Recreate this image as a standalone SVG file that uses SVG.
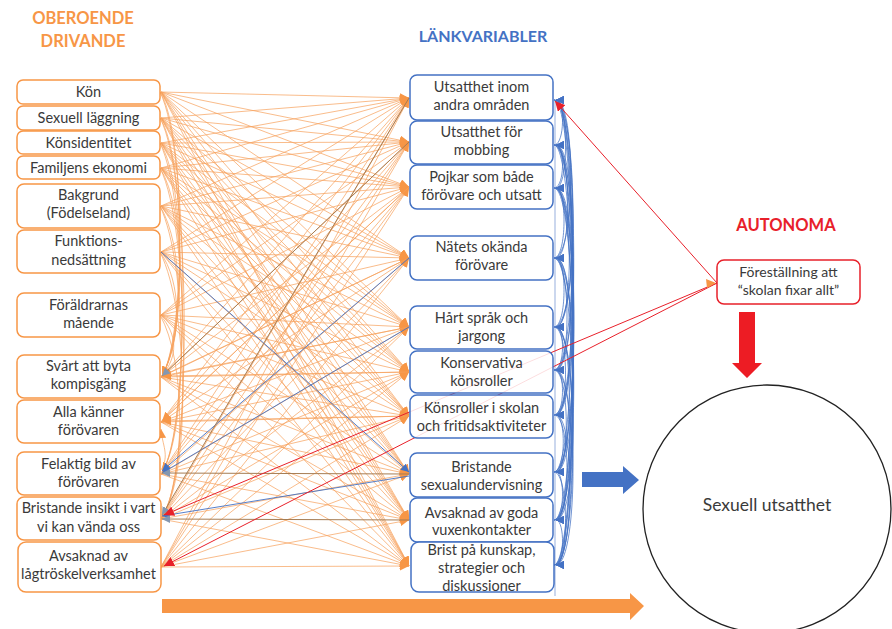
<svg xmlns="http://www.w3.org/2000/svg" width="892" height="629" viewBox="0 0 892 629">
<defs>
<style>
.t{font-family:Lato,"Liberation Sans",sans-serif;font-size:14.5px;fill:#3a3a3a;text-anchor:middle}
.h{font-family:Lato,"Liberation Sans",sans-serif;font-weight:bold;font-size:16.5px;text-anchor:middle}
.lb{fill:#fff;stroke:#F79646;stroke-width:1.5}
.mb{fill:#fff;fill-opacity:.85;stroke:#4472C4;stroke-width:1.5}
.o path{fill:none;stroke:#F7A25E;stroke-width:.8;stroke-opacity:.9;marker-end:url(#ao)}
.bl path{fill:none;stroke:#4472C4;stroke-width:.9;marker-end:url(#ab)}
.br path{fill:none;stroke:#A67C52;stroke-width:1;marker-end:url(#an)}
.rd path{fill:none;stroke:#E8202A;stroke-width:1;marker-end:url(#ar)}
.arc path{fill:none;stroke:#4472C4;stroke-width:.9;stroke-opacity:.85;marker-end:url(#ab)}
</style>
<marker id="ao" viewBox="0 0 10 10" refX="10" refY="5" markerWidth="9" markerHeight="9" markerUnits="userSpaceOnUse" orient="auto"><path d="M0 0L10 5L0 10z" fill="#F79646"/></marker>
<marker id="ab" viewBox="0 0 10 10" refX="10" refY="5" markerWidth="8" markerHeight="8" markerUnits="userSpaceOnUse" orient="auto"><path d="M0 0L10 5L0 10z" fill="#4472C4"/></marker>
<marker id="an" viewBox="0 0 10 10" refX="10" refY="5" markerWidth="8" markerHeight="8" markerUnits="userSpaceOnUse" orient="auto"><path d="M0 0L10 5L0 10z" fill="#8497B0"/></marker>
<marker id="ar" viewBox="0 0 10 10" refX="10" refY="5" markerWidth="10" markerHeight="10" markerUnits="userSpaceOnUse" orient="auto"><path d="M0 0L10 5L0 10z" fill="#E8202A"/></marker>
</defs>
<rect width="892" height="629" fill="#fff"/>

<g id="headers">
<text class="h" x="83" y="24" fill="#F79646">OBEROENDE</text>
<text class="h" x="83" y="47" fill="#F79646">DRIVANDE</text>
<text class="h" x="483" y="42" fill="#4472C4" style="font-size:16px">LÄNKVARIABLER</text>
<text class="h" x="786" y="231" fill="#E8202A">AUTONOMA</text>
</g>

<g id="connectors">
<g class="o">
<path d="M161 92L409 98"/><path d="M161 92L409 142"/><path d="M161 92L409 187"/><path d="M161 92L409 258"/><path d="M161 92L409 327"/><path d="M161 92L409 372"/><path d="M161 92L409 416"/><path d="M161 92L409 474"/><path d="M161 92L409 520"/><path d="M161 92L409 566"/>
<path d="M161 118L409 98"/><path d="M161 118L409 142"/><path d="M161 118L409 187"/><path d="M161 118L409 258"/><path d="M161 118L409 327"/><path d="M161 118L409 372"/><path d="M161 118L409 416"/><path d="M161 118L409 474"/><path d="M161 118L409 520"/><path d="M161 118L409 566"/>
<path d="M161 143L409 98"/><path d="M161 143L409 142"/><path d="M161 143L409 187"/><path d="M161 143L409 258"/><path d="M161 143L409 327"/><path d="M161 143L409 372"/><path d="M161 143L409 416"/><path d="M161 143L409 474"/><path d="M161 143L409 520"/><path d="M161 143L409 566"/>
<path d="M161 168L409 98"/><path d="M161 168L409 142"/><path d="M161 168L409 187"/><path d="M161 168L409 258"/><path d="M161 168L409 327"/><path d="M161 168L409 372"/><path d="M161 168L409 416"/><path d="M161 168L409 474"/><path d="M161 168L409 520"/><path d="M161 168L409 566"/>
<path d="M161 206L409 98"/><path d="M161 206L409 142"/><path d="M161 206L409 187"/><path d="M161 206L409 258"/><path d="M161 206L409 327"/><path d="M161 206L409 372"/><path d="M161 206L409 416"/><path d="M161 206L409 474"/><path d="M161 206L409 520"/><path d="M161 206L409 566"/>
<path d="M161 252L409 98"/><path d="M161 252L409 142"/><path d="M161 252L409 187"/><path d="M161 252L409 258"/><path d="M161 252L409 327"/><path d="M161 252L409 372"/><path d="M161 252L409 416"/><path d="M161 252L409 474"/><path d="M161 252L409 520"/><path d="M161 252L409 566"/>
<path d="M161 315L409 98"/><path d="M161 315L409 142"/><path d="M161 315L409 187"/><path d="M161 315L409 258"/><path d="M161 315L409 327"/><path d="M161 315L409 372"/><path d="M161 315L409 416"/><path d="M161 315L409 474"/><path d="M161 315L409 520"/><path d="M161 315L409 566"/>
<path d="M161 377L409 98"/><path d="M161 377L409 142"/><path d="M161 377L409 187"/><path d="M161 377L409 258"/><path d="M161 377L409 327"/><path d="M161 377L409 372"/><path d="M161 377L409 416"/><path d="M161 377L409 474"/><path d="M161 377L409 520"/><path d="M161 377L409 566"/>
<path d="M161 422L409 98"/><path d="M161 422L409 142"/><path d="M161 422L409 187"/><path d="M161 422L409 258"/><path d="M161 422L409 327"/><path d="M161 422L409 372"/><path d="M161 422L409 416"/><path d="M161 422L409 474"/><path d="M161 422L409 520"/><path d="M161 422L409 566"/>
<path d="M161 474L409 98"/><path d="M161 474L409 142"/><path d="M161 474L409 187"/><path d="M161 474L409 258"/><path d="M161 474L409 327"/><path d="M161 474L409 372"/><path d="M161 474L409 416"/><path d="M161 474L409 520"/><path d="M161 474L409 566"/>
<path d="M161 519L409 98"/><path d="M161 519L409 142"/><path d="M161 519L409 187"/><path d="M161 519L409 258"/><path d="M161 519L409 327"/><path d="M161 519L409 372"/><path d="M161 519L409 416"/><path d="M161 519L409 474"/><path d="M161 519L409 566"/>
<path d="M161 567L409 98"/><path d="M161 567L409 142"/><path d="M161 567L409 187"/><path d="M161 567L409 258"/><path d="M161 567L409 327"/><path d="M161 567L409 372"/><path d="M161 567L409 416"/><path d="M161 567L409 474"/><path d="M161 567L409 520"/><path d="M161 567L409 566"/>
<path d="M409 372L162 376"/><path d="M409 327L162 376"/><path d="M409 258L162 376"/><path d="M409 416L162 421"/><path d="M409 187L162 421"/>
<path d="M160 92C186 132 186 336 162 376"/><path d="M160 118C186 158 186 336 162 376"/><path d="M160 143C186 183 186 336 162 376"/><path d="M160 168C186 208 186 336 162 376"/><path d="M160 206C184 246 184 336 162 376"/><path d="M160 252C182 282 182 340 162 376"/><path d="M160 315C178 335 178 356 162 376"/>
<path d="M160 92C190 152 190 433 162 472"/><path d="M160 143C189 203 189 433 162 472"/><path d="M160 206C188 266 188 433 162 472"/>
<path d="M160 118C192 178 192 478 162 517"/><path d="M160 168C191 228 191 478 162 517"/><path d="M160 252C190 312 190 478 162 517"/><path d="M160 315C186 360 186 478 162 517"/>
<path d="M161 470C170 455 162 445 161 429"/>
</g>
<g class="bl">
<path d="M161 252L409 472"/><path d="M409 258L162 471"/><path d="M409 327L162 473"/><path d="M409 476L162 516"/>
</g>
<g class="br">
<path d="M409 474L162 473"/><path d="M409 520L162 519"/><path d="M409 142L162 376"/><path d="M409 98L162 515"/>
</g>
<path d="M555 100V596" fill="none" stroke="#4472C4" stroke-width=".8" stroke-opacity=".7"/>
<g class="arc">
<path d="M554 145C565 145 565 100 556 100"/><path d="M554 100C569 100 569 188 556 188"/><path d="M554 258C576 258 576 100 556 100"/><path d="M554 100C579 100 579 327 556 327"/><path d="M554 370C579 370 579 100 556 100"/><path d="M554 100C580 100 580 415 556 415"/><path d="M554 472C579 472 579 100 556 100"/><path d="M554 100C579 100 579 520 556 520"/><path d="M554 565C580 565 580 100 556 100"/>
<path d="M554 188C565 188 565 145 556 145"/><path d="M554 145C572 145 572 258 556 258"/><path d="M554 327C578 327 578 145 556 145"/><path d="M554 145C579 145 579 370 556 370"/><path d="M554 415C579 415 579 145 556 145"/><path d="M554 145C580 145 580 472 556 472"/><path d="M554 520C579 520 579 145 556 145"/><path d="M554 145C579 145 579 565 556 565"/>
<path d="M554 258C567 258 567 188 556 188"/><path d="M554 188C574 188 574 327 556 327"/><path d="M554 370C578 370 578 188 556 188"/><path d="M554 188C579 188 579 415 556 415"/><path d="M554 472C580 472 580 188 556 188"/><path d="M554 188C579 188 579 520 556 520"/><path d="M554 565C579 565 579 188 556 188"/>
<path d="M554 327C567 327 567 258 556 258"/><path d="M554 258C571 258 571 370 556 370"/><path d="M554 415C576 415 576 258 556 258"/><path d="M554 258C579 258 579 472 556 472"/><path d="M554 520C580 520 580 258 556 258"/><path d="M554 258C579 258 579 565 556 565"/>
<path d="M554 370C565 370 565 327 556 327"/><path d="M554 327C569 327 569 415 556 415"/><path d="M554 472C574 472 574 327 556 327"/><path d="M554 327C579 327 579 520 556 520"/><path d="M554 565C579 565 579 327 556 327"/>
<path d="M554 415C565 415 565 370 556 370"/><path d="M554 370C570 370 570 472 556 472"/><path d="M554 520C575 520 575 370 556 370"/><path d="M554 370C579 370 579 565 556 565"/>
<path d="M554 472C566 472 566 415 556 415"/><path d="M554 415C571 415 571 520 556 520"/><path d="M554 565C575 565 575 415 556 415"/>
<path d="M554 520C565 520 565 472 556 472"/><path d="M554 472C569 472 569 565 556 565"/>
<path d="M554 565C565 565 565 520 556 520"/>
</g>
<g class="rd">
<path d="M717 283L555 101"/><path d="M717 283L164 515"/><path d="M717 283L164 566"/>
</g>
<path d="M706 279L716 283L707 288z" fill="#F79646"/>
</g>

<g id="n-kon"><rect class="lb" x="17" y="80" width="143" height="24" rx="6"/><text class="t" x="88.5" y="97">Kön</text></g>
<g id="n-sexuell"><rect class="lb" x="17" y="106" width="143" height="24" rx="6"/><text class="t" x="88.5" y="123">Sexuell läggning</text></g>
<g id="n-konsid"><rect class="lb" x="17" y="131" width="143" height="23" rx="6"/><text class="t" x="88.5" y="148">Könsidentitet</text></g>
<g id="n-familj"><rect class="lb" x="17" y="156" width="143" height="23" rx="6"/><text class="t" x="88.5" y="173">Familjens ekonomi</text></g>
<g id="n-bakgrund"><rect class="lb" x="17" y="184" width="143" height="44" rx="7"/><text class="t" x="88.5" y="200">Bakgrund<tspan x="88.5" y="218">(Födelseland)</tspan></text></g>
<g id="n-funktion"><rect class="lb" x="17" y="230" width="143" height="43" rx="7"/><text class="t" x="88.5" y="246">Funktions-<tspan x="88.5" y="265">nedsättning</tspan></text></g>
<g id="n-foraldrar"><rect class="lb" x="17" y="293" width="143" height="44" rx="7"/><text class="t" x="88.5" y="310">Föräldrarnas<tspan x="88.5" y="328">mående</tspan></text></g>
<g id="n-svart"><rect class="lb" x="17" y="355" width="143" height="43" rx="7"/><text class="t" x="88.5" y="371">Svårt att byta<tspan x="88.5" y="389">kompisgäng</tspan></text></g>
<g id="n-alla"><rect class="lb" x="17" y="400" width="143" height="43" rx="7"/><text class="t" x="88.5" y="417">Alla känner<tspan x="88.5" y="435">förövaren</tspan></text></g>
<g id="n-felaktig"><rect class="lb" x="17" y="452" width="143" height="43" rx="7"/><text class="t" x="88.5" y="469">Felaktig bild av<tspan x="88.5" y="487">förövaren</tspan></text></g>
<g id="n-insikt"><rect class="lb" x="17" y="497" width="144" height="43" rx="7"/><text class="t" x="88.5" y="513">Bristande insikt i vart<tspan x="88.5" y="532">vi kan vända oss</tspan></text></g>
<g id="n-lagtroskel"><rect class="lb" x="18" y="542" width="143" height="50" rx="8"/><text class="t" x="88.5" y="561">Avsaknad av<tspan x="88.5" y="579">lågtröskelverksamhet</tspan></text></g>

<g id="m-utsatthet"><rect class="mb" x="410" y="75" width="143" height="45" rx="7"/><text class="t" x="481.5" y="92">Utsatthet inom<tspan x="481.5" y="110">andra områden</tspan></text></g>
<g id="m-mobbing"><rect class="mb" x="410" y="121" width="143" height="43" rx="7"/><text class="t" x="481.5" y="137">Utsatthet för<tspan x="481.5" y="155">mobbing</tspan></text></g>
<g id="m-pojkar"><rect class="mb" x="410" y="165" width="143" height="44" rx="7"/><text class="t" x="481.5" y="182">Pojkar som både<tspan x="481.5" y="200">förövare och utsatt</tspan></text></g>
<g id="m-natet"><rect class="mb" x="410" y="236" width="143" height="44" rx="7"/><text class="t" x="481.5" y="252">Nätets okända<tspan x="481.5" y="270">förövare</tspan></text></g>
<g id="m-hart"><rect class="mb" x="410" y="306" width="143" height="43" rx="7"/><text class="t" x="481.5" y="323">Hårt språk och<tspan x="481.5" y="341">jargong</tspan></text></g>
<g id="m-konservativa"><rect class="mb" x="410" y="351" width="143" height="42" rx="7"/><text class="t" x="481.5" y="368">Konservativa<tspan x="481.5" y="386">könsroller</tspan></text></g>
<g id="m-konsroller"><rect class="mb" x="410" y="395" width="143" height="43" rx="7"/><text class="t" x="481.5" y="413">Könsroller i skolan<tspan x="481.5" y="431">och fritidsaktiviteter</tspan></text></g>
<g id="m-sexundervisning"><rect class="mb" x="410" y="453" width="143" height="44" rx="7"/><text class="t" x="481.5" y="472">Bristande<tspan x="481.5" y="490">sexualundervisning</tspan></text></g>
<g id="m-vuxen"><rect class="mb" x="410" y="498" width="143" height="44" rx="7"/><text class="t" x="481.5" y="518">Avsaknad av goda<tspan x="481.5" y="535">vuxenkontakter</tspan></text></g>
<g id="m-kunskap"><rect class="mb" x="411" y="542" width="143" height="50" rx="8"/><text class="t" x="481.5" y="555">Brist på kunskap,<tspan x="481.5" y="573">strategier och</tspan><tspan x="481.5" y="591">diskussioner</tspan></text></g>

<g id="a-forestallning"><rect x="717" y="260" width="143" height="44" rx="7" fill="#fff" stroke="#E8202A" stroke-width="1.5"/><text class="t" x="788.5" y="277" style="font-size:14px">Föreställning att<tspan x="788.5" y="295">“skolan fixar allt”</tspan></text></g>

<g id="arrows">
<path d="M739 312H755V363H762L747 378L732 363H739Z" fill="#ED1C24"/>
<path d="M582 472H623V466L639 480L623 494V487H582Z" fill="#4472C4"/>
<path d="M162 599H630V593L644 606L630 620V613H162Z" fill="#F79646"/>
</g>

<g id="outcome"><circle cx="767" cy="509" r="124" fill="none" stroke="#222" stroke-width="1.3"/><text class="t" x="767" y="511" style="font-size:17.5px">Sexuell utsatthet</text></g>
</svg>
